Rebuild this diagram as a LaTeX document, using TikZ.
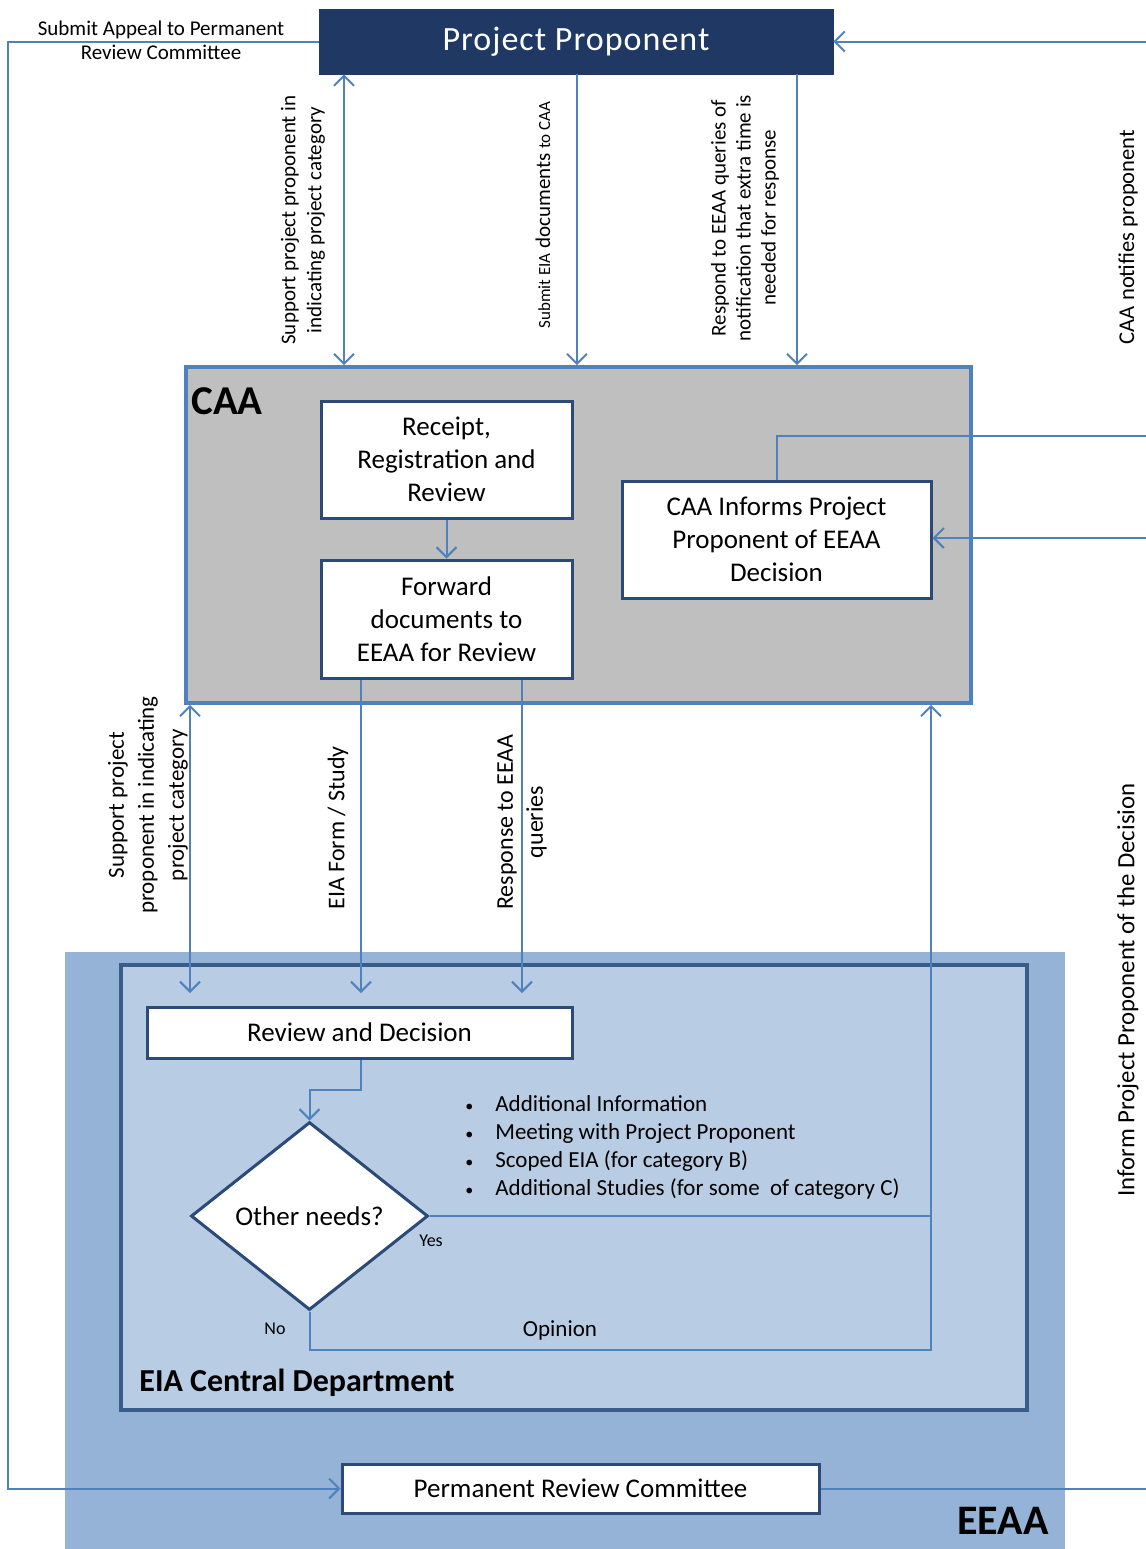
\documentclass[tikz,border=0pt]{standalone}
\usepackage{fontspec}
\setmainfont{Carlito}
\usetikzlibrary{arrows.meta,shapes.geometric,calc}
\definecolor{navy}{HTML}{1F3864}
\definecolor{connc}{HTML}{4F81BD}
\definecolor{bdr}{HTML}{2C4A78}
\definecolor{deptbdr}{HTML}{385D8A}
\definecolor{caagray}{HTML}{BFBFBF}
\definecolor{caabdr}{HTML}{4F81BD}
\definecolor{eeaafill}{HTML}{95B3D7}
\definecolor{deptfill}{HTML}{B8CCE4}
\newcommand{\fsz}[2]{\fontsize{#1pt}{#2pt}\selectfont}
\newcommand{\smbul}{{\fsz{8}{14}\textbullet}}
\tikzset{
  >={Straight Barb[length=5pt,width=10pt]},
  connline/.style={draw=connc, line width=1pt},
  whitebox/.style={draw=bdr, line width=1.5pt, fill=white, inner sep=0pt, align=center, font=\fsz{13.5}{16.5}},
  vlabel/.style={rotate=90, align=center, inner sep=0pt},
  plain/.style={inner sep=0pt, align=center},
}
\begin{document}
\begin{tikzpicture}[x=0.5pt,y=-0.5pt]
\useasboundingbox (0,0) rectangle (1146,1549);
\fill[white] (0,0) rectangle (1146,1549);

% containers
\node[fill=eeaafill, inner sep=0pt, minimum width=500pt, minimum height=298.5pt] (eeaa) at (565,1250.5) {};
\node[fill=deptfill, draw=deptbdr, line width=1.6pt, inner sep=0pt, minimum width=453pt, minimum height=222.5pt] (dept) at (574,1187.5) {};
\node[fill=caagray, draw=caabdr, line width=1.8pt, inner sep=0pt, minimum width=392.5pt, minimum height=168pt] (caa) at (578.5,535) {};

% titles
\node[plain, anchor=west, font=\fsz{20.5}{24}\bfseries] (caat) at (191,401) {CAA};
\node[plain, font=\fsz{21}{25}\bfseries] (eeaat) at (1003,1521) {EEAA};
\node[plain, anchor=west, font=\fsz{16}{19}\bfseries] (deptt) at (139,1383) {EIA Central Department};

% main nodes
\node[fill=navy, draw=navy, inner sep=0pt, minimum width=257pt, minimum height=32.5pt, text=white, font={\fsz{17}{20}\addfontfeatures{LetterSpace=3}}] (pp) at (576,41.5) {Project Proponent};
\node[whitebox, minimum width=125.5pt, minimum height=58.5pt] (receipt) at (446.5,459.5) {Receipt,\\Registration and\\Review};
\node[whitebox, minimum width=125.5pt, minimum height=59pt] (forward) at (446.5,619) {Forward\\documents to\\EEAA for Review};
\node[whitebox, minimum width=154.5pt, minimum height=58.5pt] (informs) at (776.5,539.5) {CAA Informs Project\\Proponent of EEAA\\Decision};
\node[whitebox, minimum width=212.5pt, minimum height=25.5pt] (review) at (359.5,1032.5) {Review and Decision};
\node[whitebox, diamond, minimum width=118.5pt, minimum height=94pt] (dia) at (309.5,1216) {Other needs?};
\node[whitebox, minimum width=238.5pt, minimum height=24.5pt] (prc) at (580.5,1488.5) {Permanent Review Committee};

% helper coordinates
\coordinate (cL) at (8,0);
\coordinate (cR) at (1146,0);
\coordinate (c190) at (190,0);
\coordinate (c344) at (344,0);
\coordinate (c361) at (361,0);
\coordinate (c522) at (522,0);
\coordinate (c577) at (577,0);
\coordinate (c797) at (797,0);
\coordinate (revtop) at (0,993);
\coordinate (bend) at (361,1090);
\coordinate (optc) at (931,1350);
\coordinate (infR) at (1146,436);
\coordinate (inR) at (1146,538);

% connectors
\draw[connline,->] (pp.west) -- (cL |- pp.west) -- (cL |- prc.west) -- (prc.west);
\draw[connline,->] (cR |- pp.east) -- (pp.east);
\draw[connline] (prc.east) -- (cR |- prc.east);
\draw[connline] (informs.north) |- (infR);
\draw[connline,->] (inR) -- (informs.east |- inR);

\draw[connline,<->] (c344 |- pp.south) -- (c344 |- caa.north);
\draw[connline,->] (c577 |- pp.south) -- (c577 |- caa.north);
\draw[connline,->] (c797 |- pp.south) -- (c797 |- caa.north);

\draw[connline,->] (receipt) -- (forward);

\draw[connline,<->] (c190 |- caa.south) -- (c190 |- revtop);
\draw[connline,->] (c361 |- forward.south) -- (c361 |- revtop);
\draw[connline,->] (c522 |- forward.south) -- (c522 |- revtop);

\draw[connline,->] (bend |- review.south) -- (bend) -| (dia.north);
\draw[connline] (dia.east) -- (optc |- dia.east);
\draw[connline,->] (dia.south) |- (optc) -- (optc |- caa.south);

% labels
\node[plain, font=\fsz{10.5}{12}] (appeal) at (161,40) {Submit Appeal to Permanent\\Review Committee};
\node[vlabel, font=\fsz{10.5}{13}] (l1) at (303,220) {Support project proponent in\\indicating project category};
\node[vlabel, font=\fsz{10.5}{13}] (l2) at (543,215) {{\fsz{8.5}{13}Submit EIA} documents {\fsz{8.5}{13}to CAA}};
\node[vlabel, font=\fsz{10.5}{12.5}] (l3) at (745,218) {Respond to EEAA queries of\\notification that extra time is\\needed for response};
\node[vlabel, font=\fsz{11.3}{14}] (l4) at (1128,237) {CAA notifies proponent};
\node[vlabel, font=\fsz{12.4}{14}] (l5) at (1128,990) {Inform Project Proponent of the Decision};
\node[vlabel, font=\fsz{11.5}{15}] (l6) at (148,805) {Support project\\proponent in indicating\\project category};
\node[vlabel, font=\fsz{12}{15}] (l7) at (338,828) {EIA Form / Study};
\node[vlabel, font=\fsz{12}{15}] (l8) at (522,822) {Response to EEAA\\queries};

\node[plain, anchor=west, font=\fsz{11.5}{14}] (bul) at (465,1148) {%
\begin{tabular}{@{}l@{\hspace{11pt}}l@{}}
\smbul & Additional Information\\
\smbul & Meeting with Project Proponent\\
\smbul & Scoped EIA (for category B)\\
\smbul & Additional Studies (for some\ \ of category C)
\end{tabular}};

\node[plain, font=\fsz{9}{11}] (yes) at (431,1241) {Yes};
\node[plain, font=\fsz{9}{11}] (no) at (275,1329) {No};
\node[plain, font=\fsz{11.5}{14}] (opin) at (560,1330) {Opinion};
\end{tikzpicture}
\end{document}
